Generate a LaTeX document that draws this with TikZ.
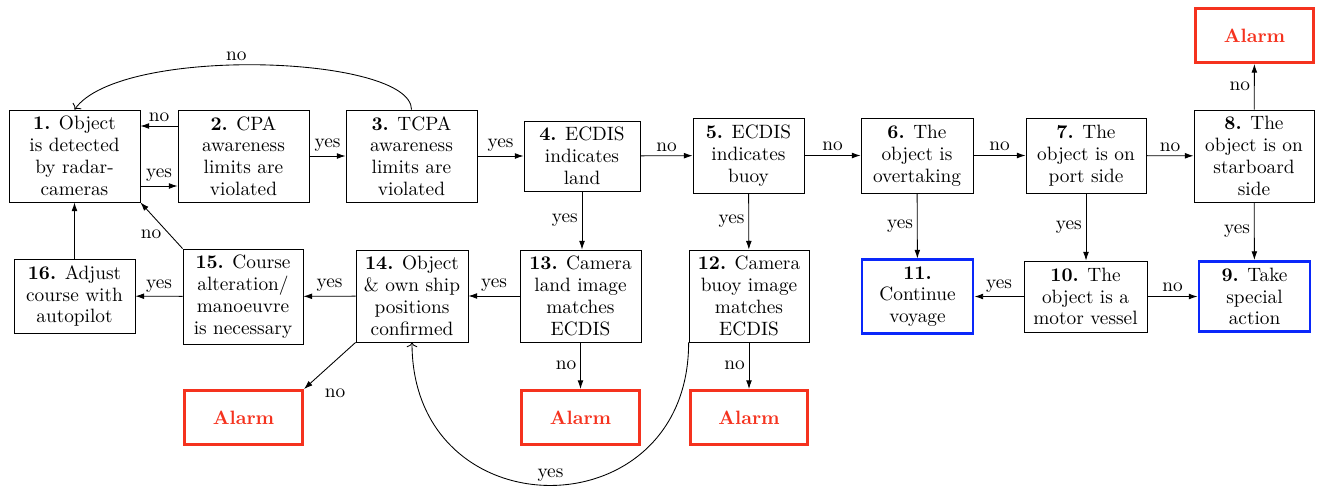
\documentclass[tikz,border=0pt]{standalone}
\usetikzlibrary{arrows.meta,calc}
\definecolor{alarmred}{RGB}{245,50,30}
\definecolor{okblue}{RGB}{10,40,250}
\newcommand\uu{0.518pt}
\tikzset{
  every node/.style={font=\fontsize{10}{11.3}\selectfont},
  box/.style={draw, align=center, inner sep=1pt, line width=0.4pt},
  alarmbox/.style={draw=alarmred, line width=1.5pt, align=center, text=alarmred, font=\fontsize{10}{11.3}\selectfont\bfseries},
  goalbox/.style={draw=okblue, line width=1.5pt, align=center},
  arr/.style={-{Latex[length=4.5pt,width=3pt]}, line width=0.45pt},
  carr/.style={-{To[length=2.5pt,width=5.5pt]}, line width=0.45pt},
  lbl/.style={inner sep=2pt}
}
\newcommand\bx[7]{\node[#6, minimum width=#4*\uu, minimum height=#5*\uu] (#1) at (#2,#3) {#7};}
\begin{document}
\begin{tikzpicture}[x=0.518pt,y=-0.518pt]
\useasboundingbox (0,0) rectangle (1317,486);
% top row
\bx{n1}{74.5}{156}{131}{92}{box}{\textbf{1.} Object\\is detected\\by radar-\\cameras}
\bx{n2}{243.5}{156}{131}{92}{box}{\textbf{2.} CPA\\awareness\\limits are\\violated}
\bx{n3}{411.5}{156}{131}{92}{box}{\textbf{3.} TCPA\\awareness\\limits are\\violated}
\bx{n4}{582}{156}{116}{70}{box}{\textbf{4.} ECDIS\\indicates\\land}
\bx{n5}{748.5}{155.5}{111}{75}{box}{\textbf{5.} ECDIS\\indicates\\buoy}
\bx{n6}{917}{155.5}{112}{75}{box}{\textbf{6.} The\\object is\\overtaking}
\bx{n7}{1086}{155.5}{120}{75}{box}{\textbf{7.} The\\object is on\\port side}
\bx{n8}{1254}{156}{120}{92}{box}{\textbf{8.} The\\object is on\\starboard\\side}
\bx{a8}{1254.5}{35.5}{118}{54}{alarmbox}{Alarm}
% bottom row
\bx{n11}{917.5}{296.5}{111}{71}{goalbox}{\textbf{11.}\\Continue\\voyage}
\bx{n10}{1085.5}{296.5}{123}{71}{box}{\textbf{10.} The\\object is a\\motor vessel}
\bx{n9}{1254.5}{296.5}{111}{69}{goalbox}{\textbf{9.} Take\\special\\action}
\bx{n16}{74.5}{296}{121}{74}{box}{\textbf{16.} Adjust\\course with\\autopilot}
\bx{n15}{243}{296.5}{120}{95}{box}{\textbf{15.} Course\\alteration/\\manoeuvre\\is necessary}
\bx{n14}{412}{296}{112}{92}{box}{\textbf{14.} Object\\\& own ship\\positions\\confirmed}
\bx{n13}{580.5}{296}{121}{92}{box}{\textbf{13.} Camera\\land image\\matches\\ECDIS}
\bx{n12}{749}{296}{120}{92}{box}{\textbf{12.} Camera\\buoy image\\matches\\ECDIS}
\bx{a13}{580.5}{417.5}{118}{54}{alarmbox}{Alarm}
\bx{a12}{749}{417.5}{117}{54}{alarmbox}{Alarm}
\bx{a14}{243.5}{417.5}{118}{54}{alarmbox}{Alarm}
% connectors top row
\draw[arr] (n1.east |- 0,186) -- node[lbl,above] {yes} (n2.west |- 0,186);
\draw[arr] (n2.west |- 0,126) -- node[lbl,above] {no} (n1.east |- 0,126);
\draw[arr] (n2) -- node[lbl,above] {yes} (n3);
\draw[carr] (n3.north) .. controls (411.5,55) and (120,45) .. node[lbl,above,pos=0.55] {no} (n1.north);
\draw[arr] (n3) -- node[lbl,above] {yes} (n4);
\draw[arr] (n4) -- node[lbl,above] {no} (n5);
\draw[arr] (n5) -- node[lbl,above] {no} (n6);
\draw[arr] (n6) -- node[lbl,above] {no} (n7);
\draw[arr] (n7) -- node[lbl,above] {no} (n8);
\draw[arr] (n8) -- node[lbl,left] {no} (a8);
% verticals
\draw[arr] (n8) -- node[lbl,left] {yes} (n9);
\draw[arr] (n7.south) -- node[lbl,left] {yes} (n10.north -| n7.south);
\draw[arr] (n6) -- node[lbl,left] {yes} (n11);
\draw[arr] (n4.south) -- node[lbl,left] {yes} (n13.north -| n4.south);
\draw[arr] (n5) -- node[lbl,left] {yes} (n12);
\draw[arr] (n13) -- node[lbl,left] {no} (a13);
\draw[arr] (n12) -- node[lbl,left] {no} (a12);
% bottom row horizontals
\draw[arr] (n10) -- node[lbl,above] {yes} (n11);
\draw[arr] (n10) -- node[lbl,above] {no} (n9);
\draw[arr] (n13) -- node[lbl,above] {yes} (n14);
\draw[arr] (n14) -- node[lbl,above] {yes} (n15);
\draw[arr] (n15) -- node[lbl,above] {yes} (n16);
\draw[arr] (n16) -- (n1);
\draw[arr] (n15.north west) -- node[lbl,pos=0.45,below left=-1pt] {no} (n1.south east);
\draw[arr] (n14.south west) -- node[lbl,pos=0.9,below right,xshift=6pt] {no} (a14.north east);
\draw[carr] (n12.south west) .. controls (689,533) and (412,533) .. node[lbl,above] {yes} (n14.south);
\end{tikzpicture}
\end{document}
